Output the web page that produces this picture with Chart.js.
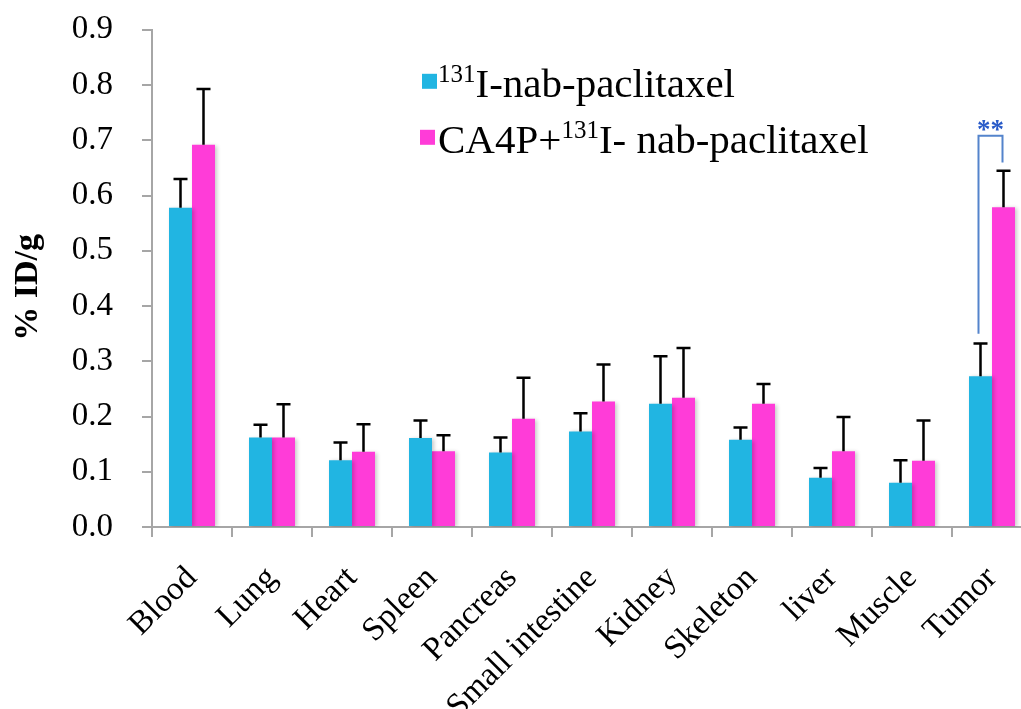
<!DOCTYPE html>
<html><head><meta charset="utf-8">
<script src="https://cdn.jsdelivr.net/npm/chart.js@4"></script>
<style>
html,body{margin:0;padding:0;background:#fff;overflow:hidden;width:1021px;height:709px}
#wrap{position:absolute;left:0;top:-19px;width:1045px;height:728px}
</style></head>
<body><div id="wrap"><canvas id="c" width="1045" height="728"></canvas></div>
<script>
const categories = ['Blood','Lung','Heart','Spleen','Pancreas','Small intestine','Kidney','Skeleton','liver','Muscle','Tumor'];
const nabMean = [0.578, 0.162, 0.121, 0.161, 0.135, 0.173, 0.223, 0.158, 0.089, 0.080, 0.273];
const nabErr  = [0.052, 0.023, 0.032, 0.032, 0.027, 0.033, 0.086, 0.022, 0.018, 0.041, 0.059];
const ca4pMean = [0.692, 0.162, 0.136, 0.137, 0.196, 0.227, 0.234, 0.223, 0.137, 0.120, 0.579];
const ca4pErr  = [0.101, 0.060, 0.050, 0.029, 0.074, 0.067, 0.090, 0.036, 0.062, 0.073, 0.066];
const yTickValues = [0.0, 0.1, 0.2, 0.3, 0.4, 0.5, 0.6, 0.7, 0.8, 0.9];
const yTitle = '% ID/g';
const seriesNames = [['', '131', 'I-nab-paclitaxel'], ['CA4P+', '131', 'I- nab-paclitaxel']];
const sigCategory = 'Tumor';
const sigBracket = { top: 0.708, leftEnd: 0.350, rightEnd: 0.660, mark: '**' };

const SERIF = "'Liberation Serif','Times New Roman',serif";
const CYAN = 'rgb(33,181,226)';
const PINK = 'rgb(255,60,216)';
const AXIS = '#a6a6a6';

const shadowPlugin = {
  id: 'shadow',
  beforeDatasetsDraw(chart) {
    const ctx = chart.ctx; ctx.save();
    ctx.shadowColor = 'rgba(0,0,0,0.22)'; ctx.shadowBlur = 4; ctx.shadowOffsetX = 2; ctx.shadowOffsetY = 1;
  },
  afterDatasetsDraw(chart) { chart.ctx.restore(); }
};

const errorPlugin = {
  id: 'errbars',
  afterDatasetsDraw(chart) {
    const ctx = chart.ctx, ys = chart.scales.y;
    const errs = [nabErr, ca4pErr], means = [nabMean, ca4pMean];
    ctx.save();
    ctx.strokeStyle = '#000'; ctx.lineWidth = 2.5; ctx.lineCap = 'butt';
    chart.data.datasets.forEach((ds, i) => {
      const meta = chart.getDatasetMeta(i);
      meta.data.forEach((bar, j) => {
        const yTop = ys.getPixelForValue(means[i][j]);
        const yE = ys.getPixelForValue(means[i][j] + errs[i][j]);
        ctx.beginPath();
        ctx.moveTo(bar.x, yTop); ctx.lineTo(bar.x, yE);
        ctx.moveTo(bar.x - 7, yE); ctx.lineTo(bar.x + 7, yE);
        ctx.stroke();
      });
    });
    // significance bracket
    const k = categories.indexOf(sigCategory);
    const b0 = chart.getDatasetMeta(0).data[k], b1 = chart.getDatasetMeta(1).data[k];
    const xl = b0.x - 2, xr = b1.x - 1;
    const yt = ys.getPixelForValue(sigBracket.top);
    ctx.strokeStyle = 'rgb(84,132,204)'; ctx.lineWidth = 2;
    ctx.beginPath();
    ctx.moveTo(xl, ys.getPixelForValue(sigBracket.leftEnd));
    ctx.lineTo(xl, yt); ctx.lineTo(xr, yt);
    ctx.lineTo(xr, ys.getPixelForValue(sigBracket.rightEnd));
    ctx.stroke();
    ctx.fillStyle = 'rgb(40,90,200)';
    ctx.font = "bold 27px " + SERIF;
    ctx.textAlign = 'center'; ctx.textBaseline = 'alphabetic';
    ctx.fillText(sigBracket.mark, (xl + xr) / 2, yt + 2);
    ctx.restore();
  }
};

const legendPlugin = {
  id: 'customLegend',
  afterDraw(chart) {
    const ctx = chart.ctx, a = chart.chartArea;
    const colors = [CYAN, PINK];
    const x0 = a.left + 270, baseY = [a.top + 67, a.top + 123];
    ctx.save();
    ctx.textBaseline = 'alphabetic'; ctx.textAlign = 'left'; ctx.fillStyle = '#000';
    seriesNames.forEach((parts, i) => {
      const by = baseY[i];
      ctx.fillStyle = colors[i];
      ctx.fillRect(x0 - (i ? 2 : 0), by - 23, 15, 15);
      let x = x0 + 16;
      ctx.fillStyle = '#000';
      ctx.font = "41px " + SERIF; ctx.fillText(parts[0], x, by); x += ctx.measureText(parts[0]).width;
      ctx.font = "25px " + SERIF; ctx.fillText(parts[1], x, by - 15); x += ctx.measureText(parts[1]).width;
      ctx.font = "41px " + SERIF; ctx.fillText(parts[2], x, by);
    });
    // y-axis title
    ctx.save();
    ctx.translate(28, (a.top + a.bottom) / 2 + 9);
    ctx.rotate(-Math.PI / 2);
    ctx.fillStyle = '#000';
    ctx.font = "bold 34px " + SERIF;
    ctx.textAlign = 'center'; ctx.textBaseline = 'middle';
    ctx.fillText(yTitle, 0, 0);
    ctx.restore();
    ctx.restore();
  }
};

new Chart(document.getElementById('c'), {
  type: 'bar',
  data: {
    labels: categories,
    datasets: [
      { label: '131I-nab-paclitaxel', data: nabMean, backgroundColor: CYAN, borderWidth: 0 },
      { label: 'CA4P+131I- nab-paclitaxel', data: ca4pMean, backgroundColor: PINK, borderWidth: 0 }
    ]
  },
  options: {
    responsive: false, animation: false, devicePixelRatio: 1,
    categoryPercentage: 0.575, barPercentage: 1.0,
    layout: { padding: { top: 10, right: 13, left: 0, bottom: 0 } },
    plugins: { legend: { display: false }, tooltip: { enabled: false } },
    scales: {
      x: {
        offset: true,
        afterFit(s) { s.height = 182; },
        grid: { offset: true, drawOnChartArea: false, drawTicks: true, tickLength: 10, color: AXIS, lineWidth: 2 },
        border: { color: AXIS, width: 2 },
        ticks: { color: '#000', font: { family: SERIF, size: 33 }, minRotation: 45, maxRotation: 45, padding: 22, autoSkip: false }
      },
      y: {
        min: 0, max: 0.9,
        afterFit(s) { s.width = 152; },
        afterBuildTicks(s) { s.ticks = yTickValues.map(v => ({ value: v })); },
        grid: { drawOnChartArea: false, drawTicks: true, tickLength: 10, color: AXIS, lineWidth: 2 },
        border: { color: AXIS, width: 2 },
        ticks: { color: '#000', font: { family: SERIF, size: 33 }, padding: 29, callback: v => Number(v).toFixed(1) },
        title: { display: false }
      }
    }
  },
  plugins: [shadowPlugin, errorPlugin, legendPlugin]
});
</script></body></html>
